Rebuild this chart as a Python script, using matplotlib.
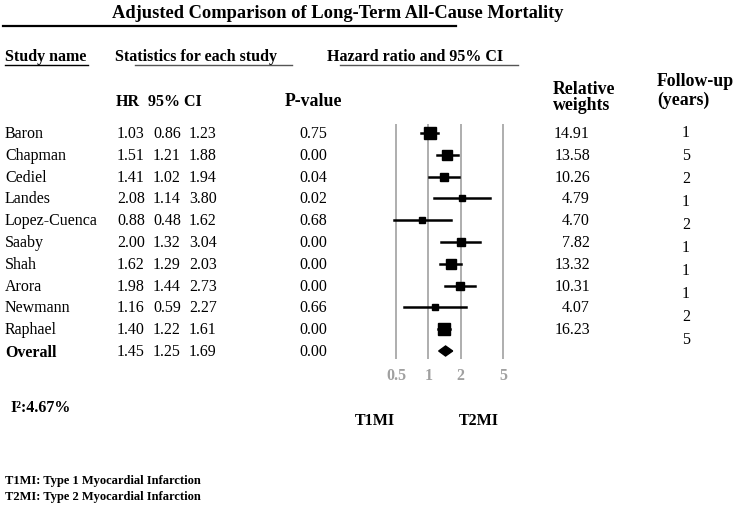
import numpy as np
import matplotlib
matplotlib.use("Agg")
import matplotlib.pyplot as plt

plt.rcParams["font.family"] = ["Liberation Serif", "DejaVu Serif"]

#######################################################
# DATA

studies = ["Baron", "Chapman", "Cediel", "Landes", "Lopez-Cuenca",
           "Saaby", "Shah", "Arora", "Newmann", "Raphael"]
hr = [1.03, 1.51, 1.41, 2.08, 0.88, 2.00, 1.62, 1.98, 1.16, 1.40]
ci_low = [0.86, 1.21, 1.02, 1.14, 0.48, 1.32, 1.29, 1.44, 0.59, 1.22]
ci_high = [1.23, 1.88, 1.94, 3.80, 1.62, 3.04, 2.03, 2.73, 2.27, 1.61]
p_values = ["0.75", "0.00", "0.04", "0.02", "0.68",
            "0.00", "0.00", "0.00", "0.66", "0.00"]
weights = [14.91, 13.58, 10.26, 4.79, 4.70, 7.82, 13.32, 10.31, 4.07, 16.23]
follow_up = [1, 5, 2, 1, 2, 1, 1, 1, 2, 5]

overall_hr = 1.45
overall_low = 1.25
overall_high = 1.69
overall_p = "0.00"
i2_text = "I²:4.67%"

x_ticks = [0.5, 1, 2, 5]
x_tick_labels = ["0.5", "1", "2", "5"]

#######################################################
# FIGURE

W, H = 738, 510
fig = plt.figure(figsize=(W / 100, H / 100), dpi=100)

# full-figure axes in pixel coordinates for text
ax0 = fig.add_axes([0, 0, 1, 1])
ax0.set_xlim(0, W)
ax0.set_ylim(H, 0)
ax0.axis("off")

ROW0 = 134
ROWSTEP = 21.8
FS = 11.5
HFS = 12.8

def row_y(i):
    return ROW0 + ROWSTEP * i

# title
ax0.text(338, 14, "Adjusted Comparison of Long-Term All-Cause Mortality",
         ha="center", va="center", fontsize=13.3, fontweight="bold")
ax0.plot([3, 456], [27, 27], color="black", lw=1.6)

# headers
ax0.text(5, 57, "Study name", ha="left", va="center",
         fontsize=FS, fontweight="bold")
ax0.plot([5, 88], [66, 66], color="black", lw=1)
ax0.text(115, 57, "Statistics for each study", ha="left", va="center",
         fontsize=FS, fontweight="bold")
ax0.plot([135, 292], [66, 66], color="#555555", lw=1)
ax0.text(327, 57, "Hazard ratio and 95% CI", ha="left", va="center",
         fontsize=FS, fontweight="bold")
ax0.plot([340, 518], [66, 66], color="#555555", lw=1)

ax0.text(116, 102, "HR", ha="left", va="center", fontsize=FS, fontweight="bold")
ax0.text(148, 102, "95% CI", ha="left", va="center", fontsize=FS, fontweight="bold")
ax0.text(285, 102, "P-value", ha="left", va="center", fontsize=HFS, fontweight="bold")
ax0.text(553, 89, "Relative", ha="left", va="center", fontsize=HFS, fontweight="bold")
ax0.text(553, 106, "weights", ha="left", va="center", fontsize=HFS, fontweight="bold")
ax0.text(657, 81, "Follow-up", ha="left", va="center", fontsize=HFS, fontweight="bold")
ax0.text(657, 100, "(years)", ha="left", va="center", fontsize=HFS, fontweight="bold")

# table rows
for i, name in enumerate(studies):
    y = row_y(i)
    ax0.text(5, y, name, ha="left", va="center", fontsize=FS)
    ax0.text(117, y, f"{hr[i]:.2f}", ha="left", va="center", fontsize=FS)
    ax0.text(153, y, f"{ci_low[i]:.2f}", ha="left", va="center", fontsize=FS)
    ax0.text(189, y, f"{ci_high[i]:.2f}", ha="left", va="center", fontsize=FS)
    ax0.text(299, y, p_values[i], ha="left", va="center", fontsize=FS)
    ax0.text(590, y, f"{weights[i]:.2f}", ha="right", va="center", fontsize=FS)
    ax0.text(686, 133 + 23 * i, str(follow_up[i]), ha="center", va="center",
             fontsize=FS)

yo = row_y(len(studies))
ax0.text(5, yo + 1, "Overall", ha="left", va="center", fontsize=FS,
         fontweight="bold")
ax0.text(117, yo, f"{overall_hr:.2f}", ha="left", va="center", fontsize=FS)
ax0.text(153, yo, f"{overall_low:.2f}", ha="left", va="center", fontsize=FS)
ax0.text(189, yo, f"{overall_high:.2f}", ha="left", va="center", fontsize=FS)
ax0.text(299, yo, overall_p, ha="left", va="center", fontsize=FS)

ax0.text(10, 408, i2_text, ha="left", va="center", fontsize=FS,
         fontweight="bold")

ax0.text(375, 421, "T1MI", ha="center", va="center", fontsize=FS,
         fontweight="bold")
ax0.text(479, 421, "T2MI", ha="center", va="center", fontsize=FS,
         fontweight="bold")

ax0.text(5, 481, "T1MI: Type 1 Myocardial Infarction", ha="left",
         va="center", fontsize=9, fontweight="bold")
ax0.text(5, 497, "T2MI: Type 2 Myocardial Infarction", ha="left",
         va="center", fontsize=9, fontweight="bold")

#######################################################
# FOREST PLOT

L, R, T, B = 370, 530, 125, 360
ax = fig.add_axes([L / W, 1 - B / H, (R - L) / W, (B - T) / H])
ax.set_xscale("log")
x0, px_dec = 428.3, 107.0
ax.set_xlim(10 ** ((L - x0) / px_dec), 10 ** ((R - x0) / px_dec))
ax.set_ylim((B - ROW0) / ROWSTEP, (T - ROW0) / ROWSTEP)
ax.patch.set_alpha(0)
for s in ax.spines.values():
    s.set_visible(False)

for t in x_ticks:
    ax.axvline(t, color="#a8a8a8", lw=1.3, zorder=0)

for i in range(len(studies)):
    ax.plot([ci_low[i], ci_high[i]], [i, i], color="black", lw=1.8, zorder=2)
    size_px = 3.8 + 0.5 * weights[i]
    ax.plot(hr[i], i, marker="s", color="black", markersize=size_px * 0.72,
            zorder=3)

yi = len(studies)
ax.fill([overall_low, overall_hr, overall_high, overall_hr],
        [yi, yi - 0.23, yi, yi + 0.23], color="black", zorder=3)

ax.set_yticks([])
ax.set_xticks(x_ticks)
ax.set_xticklabels(x_tick_labels)
ax.minorticks_off()
ax.tick_params(axis="x", length=0, pad=6, labelsize=11.5,
               labelcolor="#a0a0a0")
for lab in ax.get_xticklabels():
    lab.set_fontweight("bold")

plt.savefig("out.png", dpi=100)
plt.close()
